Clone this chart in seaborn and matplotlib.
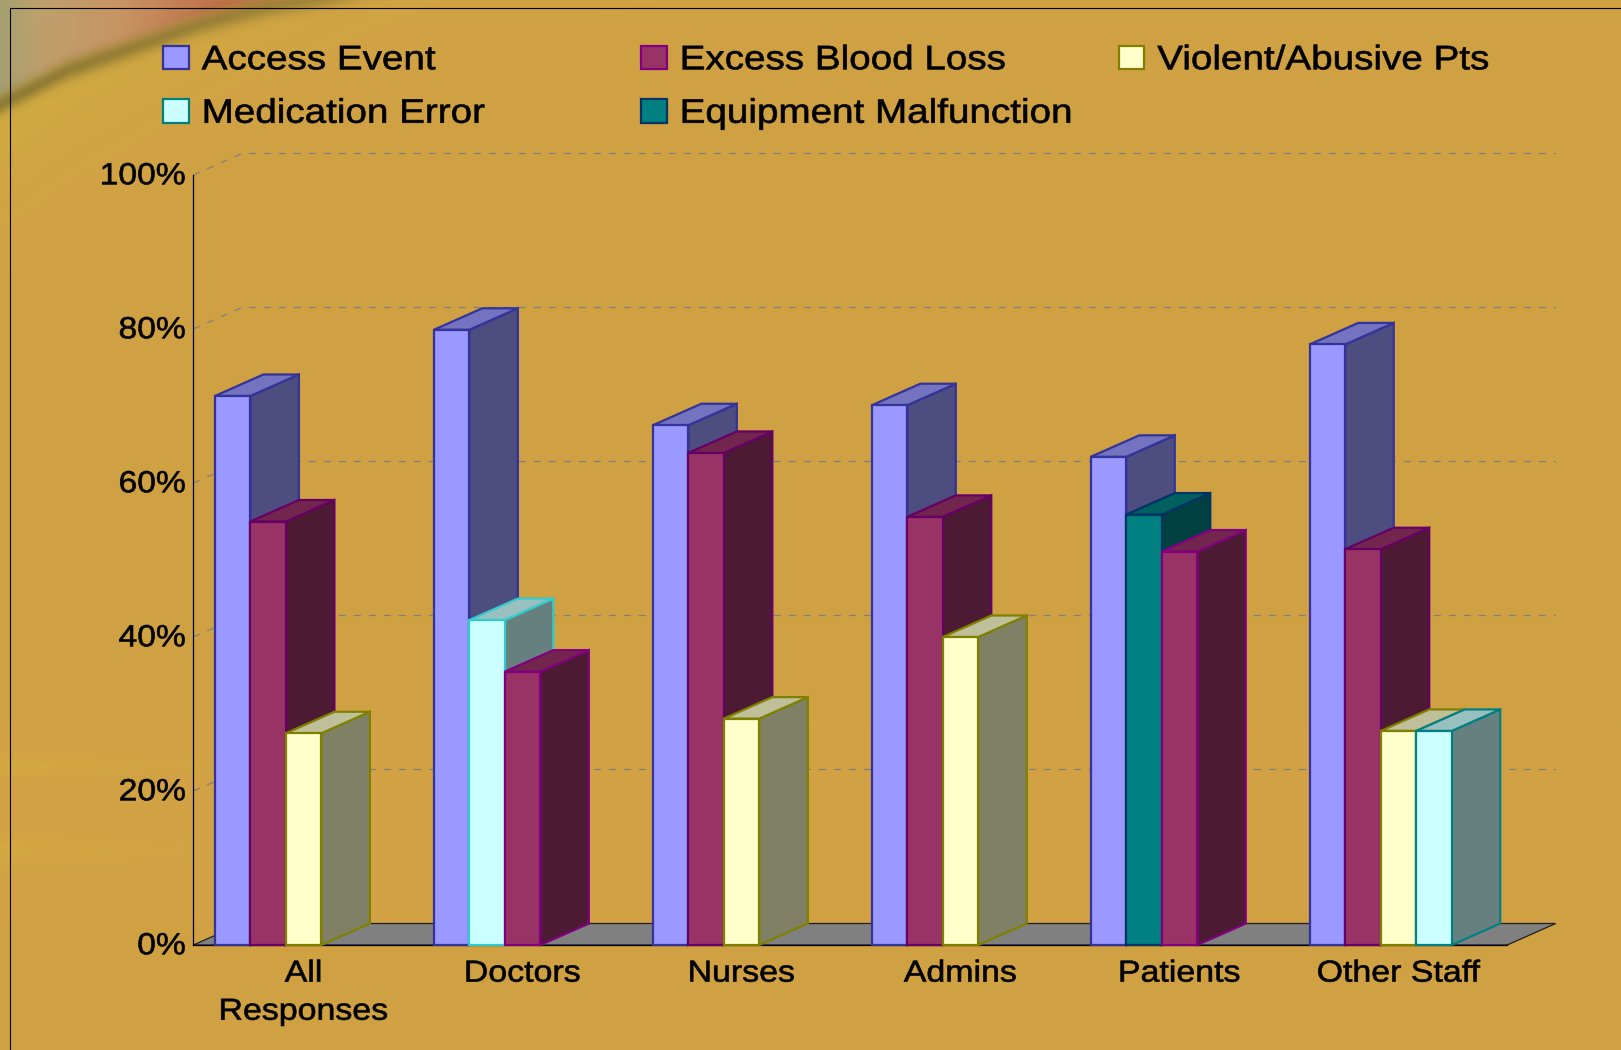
import numpy as np
import pandas as pd
import matplotlib
matplotlib.use("Agg")
import matplotlib.pyplot as plt
from matplotlib.lines import Line2D
from matplotlib.patches import Patch, Polygon
from matplotlib.patheffects import AbstractPathEffect
from matplotlib.transforms import Affine2D
import seaborn as sns

# Survey results: share of each respondent group citing each event type (%)
GROUPS = ["All\nResponses", "Doctors", "Nurses", "Admins", "Patients", "Other Staff"]
SERIES = ["Access Event", "Excess Blood Loss", "Violent/Abusive Pts",
          "Medication Error", "Equipment Malfunction"]
ACCESS_EVENT = [71.3, 79.9, 67.5, 70.1, 63.4, 78.0]
EXCESS_BLOOD_LOSS = [55.0, 35.5, 63.9, 55.6, 51.1, 51.4]
VIOLENT_ABUSIVE = [27.5, None, 29.4, 40.0, None, 27.8]
MEDICATION_ERROR = [None, 42.2, None, None, None, 27.8]
EQUIPMENT_MALFUNCTION = [None, None, None, None, 55.9, None]
# Left-to-right order of the bars inside each group
GROUP_ORDER = [
    ["Access Event", "Excess Blood Loss", "Violent/Abusive Pts"],
    ["Access Event", "Medication Error", "Excess Blood Loss"],
    ["Access Event", "Excess Blood Loss", "Violent/Abusive Pts"],
    ["Access Event", "Excess Blood Loss", "Violent/Abusive Pts"],
    ["Access Event", "Equipment Malfunction", "Excess Blood Loss"],
    ["Access Event", "Excess Blood Loss", "Violent/Abusive Pts", "Medication Error"],
]
Y_TICKS = [0, 20, 40, 60, 80, 100]

FACE = {"Access Event": "#9999FF", "Excess Blood Loss": "#993366",
        "Violent/Abusive Pts": "#FFFFCC", "Medication Error": "#CCFFFF",
        "Equipment Malfunction": "#008080"}
EDGE = {"Access Event": "#333399", "Excess Blood Loss": "#800080",
        "Violent/Abusive Pts": "#808000", "Medication Error": "#008080",
        "Equipment Malfunction": "#003366"}

W, H = 1621, 1050
DPI = 100
X0_PX, X1_PX = 193.4, 1507.2
Y0_PX, PX_PER_PCT = 945.0, 7.7
DEPTH_X_PX, DEPTH_Y_PX = 48.5, 21.5
BAR_PX, LEAD_PX = 35.5, 21.5
CAT_PX = (X1_PX - X0_PX) / len(GROUPS)
DEPTH_X = DEPTH_X_PX / CAT_PX
DEPTH_Y = DEPTH_Y_PX / PX_PER_PCT
BAR_W = BAR_PX / CAT_PX
LEAD = LEAD_PX / CAT_PX


class Stretch(AbstractPathEffect):
    """Widen and slightly embolden glyphs about a pixel column or the text origin."""

    def __init__(self, sx, anchor=None, dx=0, dy=0, stroke=0.45):
        super().__init__()
        self.sx, self.anchor, self.dx, self.dy, self.stroke = sx, anchor, dx, dy, stroke

    def draw_path(self, renderer, gc, tpath, affine, rgbFace=None):
        if self.anchor is None:
            full = Affine2D().scale(self.sx, 1) + affine
        else:
            full = affine + Affine2D().translate(-self.anchor, 0).scale(self.sx, 1).translate(self.anchor, 0)
        gc0 = renderer.new_gc()
        gc0.copy_properties(gc)
        gc0.set_linewidth(self.stroke)
        gc0.set_foreground("black")
        renderer.draw_path(gc0, tpath, full + Affine2D().translate(self.dx, self.dy), rgbFace)
        gc0.restore()


def shade(color, k):
    return tuple(c * k for c in matplotlib.colors.to_rgb(color))


def backdrop():
    """Warm gold backdrop with a curved band sweeping across the top-left corner."""
    yy, xx = np.mgrid[0:H, 0:W].astype(float)
    img = np.ones((H, W, 3)) * np.array([209, 161, 68], float)
    # faint horizontal streaks near the left edge
    for yc, amp, hgt in [(765, 7, 14), (850, 6, 20)]:
        m = np.exp(-((yy - yc) / hgt) ** 2) * np.exp(-xx / 170)
        img += m[..., None] * np.array([amp * 0.3, amp, -amp * 0.4])
    curve = np.interp(xx, [0, 67, 133, 200, 267, 317, 420], [107, 73, 50, 27, 10, 2, -20])
    d = yy - curve
    # yellow glow below the band
    glow = np.exp(-np.clip(d, 0, None) / 70) * np.exp(-xx / 300) * (d > -20)
    img = img * (1 - glow[..., None] * 0.8) + np.array([208, 176, 62]) * glow[..., None] * 0.8
    # tinted region above the band, shifting from grey-olive through peach to red
    tone = np.stack([np.interp(xx, [0, 40, 120, 220], c) for c in
                     ([165, 190, 200, 192], [160, 160, 148, 112], [112, 108, 100, 72])], axis=-1)
    a = np.clip((-d - 1) / 16, 0, 1)[..., None]
    img = img * (1 - a) + tone * a
    # dark olive core of the band
    band = np.exp(-((d + 3) / 10) ** 2)[..., None] * np.clip(1 - xx / 560, 0, 1)[..., None] ** 0.5
    img = img * (1 - band * 0.85) + np.array([132, 114, 50]) * band * 0.85
    return np.clip(img, 0, 255).astype(np.uint8)


sns.set_style("white")
plt.rcParams["font.family"] = ["Liberation Sans", "DejaVu Sans"]

values = {"Access Event": ACCESS_EVENT, "Excess Blood Loss": EXCESS_BLOOD_LOSS,
          "Violent/Abusive Pts": VIOLENT_ABUSIVE, "Medication Error": MEDICATION_ERROR,
          "Equipment Malfunction": EQUIPMENT_MALFUNCTION}
rows = [{"group": g, "series": s, "value": v}
        for s in SERIES for g, v in zip(GROUPS, values[s]) if v is not None]
df = pd.DataFrame(rows)

fig = plt.figure(figsize=(W / DPI, H / DPI), dpi=DPI)
bg = fig.add_axes([0, 0, 1, 1], zorder=0)
bg.imshow(backdrop(), aspect="auto", interpolation="bilinear")
bg.axis("off")

top_px = Y0_PX - 100 * PX_PER_PCT
ax = fig.add_axes([X0_PX / W, 1 - Y0_PX / H, (X1_PX - X0_PX) / W, (Y0_PX - top_px) / H], zorder=1)
ax.patch.set_alpha(0)

sns.barplot(data=df, x="group", y="value", hue="series", order=GROUPS, hue_order=SERIES,
            palette=FACE, saturation=1, errorbar=None, legend=False, ax=ax)
ax.set_xlim(-0.5, len(GROUPS) - 0.5)
ax.set_ylim(0, 100)
ax.set_xlabel("")
ax.set_ylabel("")

LINE = 1.6
for series, container in zip(SERIES, ax.containers):
    for bar in container:
        h = bar.get_height()
        if not h or np.isnan(h):
            continue
        gi = int(round(bar.get_x() + bar.get_width() / 2))
        slot = GROUP_ORDER[gi].index(series)
        left = gi - 0.5 + LEAD + slot * BAR_W
        right = left + BAR_W
        bar.set_x(left)
        bar.set_width(BAR_W)
        edge = "#33CCCC" if (series == "Medication Error" and GROUPS[gi] == "Doctors") else EDGE[series]
        if series == "Excess Blood Loss" and GROUPS[gi] in ("All\nResponses", "Other Staff", "Nurses", "Admins"):
            edge = "#660066"
        z = 3 + slot * 0.1
        bar.set(edgecolor=edge, linewidth=LINE, zorder=z + 0.02, clip_on=False)
        face = FACE[series]
        ax.add_patch(Polygon([(right, 0), (right + DEPTH_X, DEPTH_Y), (right + DEPTH_X, h + DEPTH_Y), (right, h)],
                             closed=True, facecolor=shade(face, 0.5), edgecolor=edge,
                             linewidth=LINE, zorder=z, clip_on=False))
        ax.add_patch(Polygon([(left, h), (left + DEPTH_X, h + DEPTH_Y), (right + DEPTH_X, h + DEPTH_Y), (right, h)],
                             closed=True, facecolor=shade(face, 0.75), edgecolor=edge,
                             linewidth=LINE, zorder=z + 0.01, clip_on=False))

# Floor of the chart box
n = len(GROUPS)
ax.add_patch(Polygon([(-0.5, 0), (-0.5 + DEPTH_X, DEPTH_Y), (n - 0.5 + DEPTH_X, DEPTH_Y), (n - 0.5, 0)],
                     closed=True, facecolor="#808080", edgecolor="#202020", linewidth=0.9,
                     zorder=1, clip_on=False))

# Dashed gridlines on the back wall and their run-in along the side wall
GRID_STYLE = dict(color="#808080", linewidth=0.9, linestyle=(0, (5.6, 6.4)), zorder=0.5, clip_on=False)
for v in Y_TICKS[1:]:
    ax.plot([-0.5, -0.5 + DEPTH_X, n - 0.5 + DEPTH_X], [v, v + DEPTH_Y, v + DEPTH_Y], **GRID_STYLE)

ax.set_yticks(Y_TICKS)
ax.set_yticklabels([f"{v}%" for v in Y_TICKS], fontsize=22, color="black")
ax.tick_params(axis="y", length=0, pad=5.3)
ax.tick_params(axis="x", length=0, pad=10.5)
ax.grid(False)
for label in ax.get_yticklabels():
    label.set_path_effects([Stretch(1.1, anchor=186.0, dy=2.2)])
for label, i in zip(ax.set_xticklabels(GROUPS, fontsize=21.8, color="black", linespacing=1.46), range(n)):
    cx = X0_PX + CAT_PX * (i + 0.5)
    label.set_path_effects([Stretch(1.12, anchor=cx, dx=0.5)])

for side in ("top", "right"):
    ax.spines[side].set_visible(False)
for side in ("left", "bottom"):
    ax.spines[side].set(color="black", linewidth=0.9, zorder=2)

# Legend: three independent columns so their spacing stays even
COLUMNS = [["Access Event", "Medication Error"],
           ["Excess Blood Loss", "Equipment Malfunction"],
           ["Violent/Abusive Pts"]]
COLUMN_X = [163, 641, 1118.6]
for names, x_px in zip(COLUMNS, COLUMN_X):
    handles = [Patch(facecolor=FACE[s], edgecolor=EDGE[s], linewidth=LINE, label=s) for s in names]
    leg = fig.legend(handles=handles, loc="upper left",
                     bbox_to_anchor=(x_px / W, 1 - 45.3 / H), bbox_transform=fig.transFigure,
                     frameon=False, fontsize=24.5, borderaxespad=0, borderpad=0,
                     handlelength=0.756, handleheight=0.685, handletextpad=0.38, labelspacing=0.66)
    leg.set_zorder(5)
    for t in leg.get_texts():
        t.set_color("black")
        t.set_path_effects([Stretch(1.135)])

# Thin black frame along the top and left of the slide
fig.add_artist(Line2D([10.3 / W, 10.3 / W, 1], [0, 1 - 7.5 / H, 1 - 7.5 / H],
                      color="black", linewidth=0.8, transform=fig.transFigure, zorder=6))

fig.savefig("out.png", dpi=DPI)
